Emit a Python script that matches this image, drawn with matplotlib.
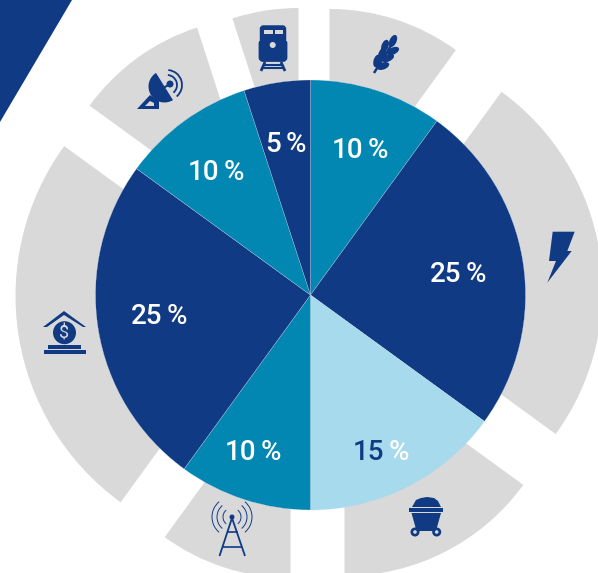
#!/usr/bin/env python3

import numpy as np
import matplotlib
matplotlib.use('Agg')
import matplotlib.pyplot as plt
from matplotlib.patches import Wedge, Polygon, Circle, Rectangle, Ellipse, Arc, FancyBboxPatch

W, H = 598, 573
DARK = '#103a84'
TEAL = '#0287b2'
LIGHT = '#a6daec'
GRAY = '#d9d9d9'

# clockwise from 12 o'clock
shares = [10, 25, 15, 10, 25, 10, 5]
slice_colors = [TEAL, DARK, LIGHT, TEAL, DARK, TEAL, DARK]
number_labels = ['10', '25', '15', '10', '25', '10', '5']
number_colors = ['white', 'white', DARK, 'white', 'white', 'white', 'white']

# where number and % meet, and the text middle, in picture pixels
label_x = [365, 463, 386, 258, 164, 221, 283]
label_y = [147, 272, 449, 449, 314, 170, 141]

# the gray pieces are pushed out from the pie, each on its own
gray_dx = [19, 47, 34, -20, -40, -47, -12]
gray_dy = [-71, -5, 60, 69, 1, -63, -73]
gray_r = [215, 245, 221, 214, 255, 215, 214]

cx, cy, radius = 310.5, 295, 215

plt.rcParams['font.family'] = ['Roboto', 'DejaVu Sans']

fig = plt.figure(figsize=(W / 100, H / 100), dpi=100)
ax = fig.add_axes([0, 0, 1, 1])
ax.set_xlim(0, W)
ax.set_ylim(0, H)
ax.axis('off')

def py(y):
	return H - y

def poly(points, color=DARK, z=5):
	ax.add_patch(Polygon([(x, py(y)) for x, y in points], closed=True, fc=color, ec='none', zorder=z))

def rect(x0, y0, x1, y1, color=DARK, z=5):
	ax.add_patch(Rectangle((x0, py(y1)), x1 - x0, y1 - y0, fc=color, ec='none', zorder=z))

def line(x0, y0, x1, y1, lw=1.5, color=DARK, z=5):
	ax.plot([x0, x1], [py(y0), py(y1)], color=color, lw=lw, solid_capstyle='butt', zorder=z)

def circ(x, y, r, color=DARK, z=5):
	ax.add_patch(Circle((x, py(y)), r, fc=color, ec='none', zorder=z))

# corner triangle
poly([(0, 0), (72, 0), (0, 122)], z=1)

# gray ring
edges = np.cumsum([0] + shares) * 3.6
for i in range(len(shares)):
	ax.add_patch(Wedge((cx + gray_dx[i], py(cy + gray_dy[i])), gray_r[i], 90 - edges[i + 1], 90 - edges[i],
		fc=GRAY, ec='none', zorder=1))

# pie on top
ax.pie(shares, colors=slice_colors, startangle=90, counterclock=False, center=(cx, py(cy)), radius=radius,
	frame=True, wedgeprops={'edgecolor': '#c8d8e8', 'linewidth': 0.2, 'zorder': 2})
ax.set_xlim(0, W)
ax.set_ylim(0, H)
ax.set_aspect('equal')
ax.axis('off')

for i in range(len(shares)):
	ax.text(label_x[i] - 2, py(label_y[i]), number_labels[i], color=number_colors[i], fontsize=20, weight=500,
		ha='right', va='center_baseline', zorder=6)
	ax.text(label_x[i] + 3, py(label_y[i]), '%', color='white', fontsize=20, weight=500,
		ha='left', va='center_baseline', zorder=6)

# train
ax.add_patch(FancyBboxPatch((261.5, py(41)), 23, 14, boxstyle='round,pad=0,rounding_size=2', fc=DARK, ec=DARK, lw=2.5, zorder=5))
rect(264, 30, 272.5, 34, GRAY, 6)
rect(275, 30, 283, 34, GRAY, 6)
ax.add_patch(FancyBboxPatch((260, py(60.5)), 26, 20, boxstyle='round,pad=0,rounding_size=3', fc=DARK, ec=DARK, lw=2, zorder=5))
circ(272.7, 45, 3, GRAY, 6)
line(265, 62, 261, 71, 2)
line(281, 62, 285, 71, 2)
line(264, 64.5, 282, 64.5, 1.5)
line(262, 68, 284, 68, 1.5)

# grain
line(374, 73, 392, 44, 1.8)
for x, y, a in [(393, 41, 65), (385, 46, 70), (393, 51, 25), (382, 54, 70), (388, 58, 25), (377, 61, 75), (383, 66, 20)]:
	ax.add_patch(Ellipse((x, py(y)), 13, 7, angle=a, fc=DARK, ec='none', zorder=5))

# satellite dish
ax.add_patch(Wedge((164.5, py(86.5)), 16, 122, 302, fc=DARK, ec='none', zorder=5))
poly([(137, 109), (150, 95), (159, 101), (159, 109)])
poly([(145, 106), (150, 101), (154, 103), (154, 106)], GRAY, 6)
line(160, 90, 170, 84, 1.5)
circ(170, 84, 3.5)
for r in [10, 15]:
	ax.add_patch(Arc((167, py(85)), 2 * r, 2 * r, theta1=-50, theta2=85, ec=DARK, lw=1.3, zorder=5))

# bolt
poly([(552.7, 231.7), (574.7, 231.7), (567.3, 251), (571.7, 251), (547.3, 282.7), (556, 261), (549, 261)])

# coal cart
poly([(412, 507), (416, 500), (421, 498), (427, 497), (434, 498), (438, 501), (441, 507)])
rect(409, 507.5, 443, 512)
poly([(411.5, 513), (441, 513), (436, 531), (416.5, 531)])
for x in [415, 436.7]:
	circ(x, 532, 4.5)
	circ(x, 532, 1.8, GRAY, 6)

# tower
line(232, 518, 219.5, 556, 1.3)
line(232, 518, 245, 556, 1.3)
line(226.5, 532, 237.5, 532, 1.2)
line(222.5, 547, 241.5, 547, 1.2)
circ(232, 517, 2.5)
for r in [9, 15, 20]:
	ax.add_patch(Arc((232, py(517)), 2 * r, 2 * r, theta1=-50, theta2=50, ec=DARK, lw=0.7, zorder=5))
	ax.add_patch(Arc((232, py(517)), 2 * r, 2 * r, theta1=130, theta2=230, ec=DARK, lw=0.7, zorder=5))

# bank
poly([(43, 327), (64, 311), (86, 327), (83, 327), (64, 315), (47, 327)])
circ(64.5, 332.7, 11.5)
ax.text(64.5, py(333), '$', color=GRAY, fontsize=13, ha='center', va='center', zorder=6)
rect(48, 345, 81, 349)
rect(44, 350, 86, 354)

fig.savefig('out.png', dpi=100)
